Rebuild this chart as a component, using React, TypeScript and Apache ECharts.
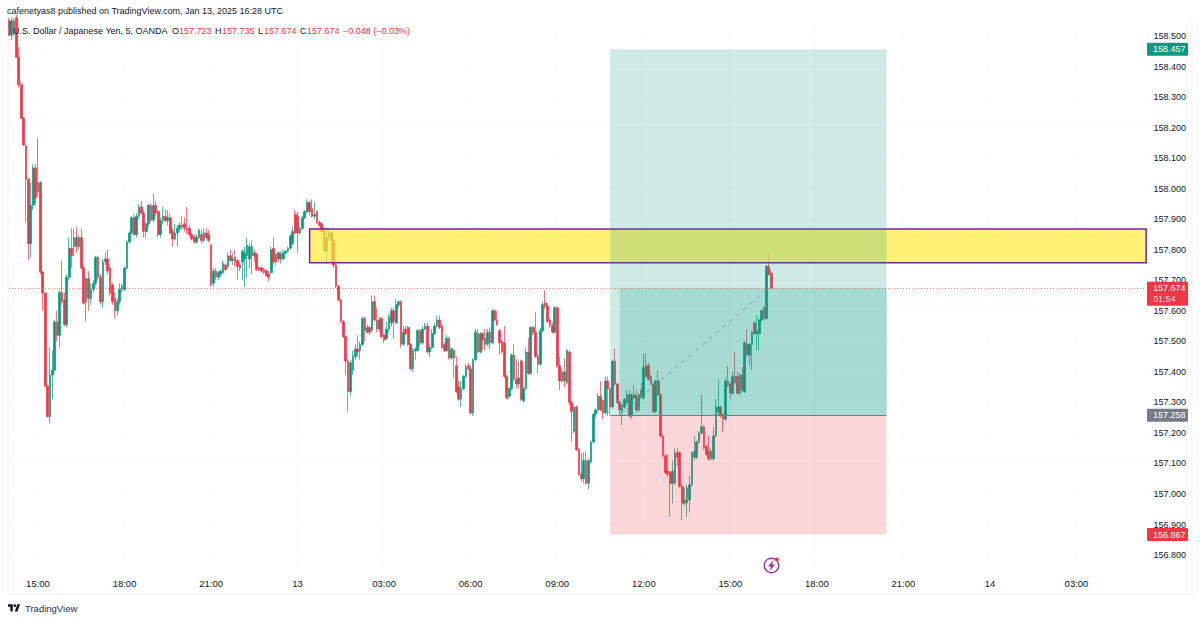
import React, { useEffect, useRef } from "react";
import * as echarts from "echarts";

// rows are [open, high, low, close]
const barsFriday: number[][] = [
  [158.55,158.56,158.50,158.503],[158.503,158.56,158.487,158.55],[158.55,158.56,158.50,158.51],[158.56,158.57,158.43,158.43],
  [158.43,158.465,158.33,158.34],[158.34,158.35,158.23,158.23],[158.23,158.235,158.14,158.143],[158.14,158.145,157.89,158.03],
  [158.03,158.035,157.765,157.82],[157.82,158.02,157.775,157.946],[157.946,158.08,157.93,158.068],[158.068,158.08,157.95,157.97],
  [157.99,158.166,157.98,158.02],[158.02,158.025,157.72,157.727],[157.727,157.73,157.60,157.658],[157.658,157.66,157.35,157.354],
  [157.354,157.354,157.25,157.253],[157.253,157.48,157.232,157.39],[157.39,157.47,157.31,157.406],[157.406,157.57,157.40,157.563],
  [157.563,157.60,157.50,157.52],[157.52,157.67,157.48,157.66],[157.66,157.765,157.62,157.63],[157.635,157.66,157.55,157.555],
  [157.555,157.72,157.545,157.71],[157.71,157.84,157.70,157.805],[157.805,157.87,157.74,157.78],[157.81,157.87,157.78,157.84],
  [157.84,157.875,157.79,157.81],[157.81,157.85,157.80,157.84],[157.84,157.87,157.735,157.74],[157.74,157.75,157.62,157.625],
  [157.63,157.71,157.565,157.705],[157.705,157.73,157.60,157.64],[157.64,157.69,157.62,157.67],[157.67,157.70,157.66,157.69],
  [157.69,157.78,157.68,157.775],[157.775,157.78,157.70,157.71],[157.71,157.72,157.62,157.63],[157.63,157.77,157.61,157.76],
  [157.76,157.79,157.75,157.77],[157.77,157.80,157.72,157.73],[157.74,157.75,157.65,157.658],[157.685,157.69,157.62,157.63],
  [157.64,157.66,157.575,157.60],[157.60,157.64,157.585,157.63],[157.63,157.69,157.62,157.67],[157.67,157.69,157.66,157.68],
  [157.67,157.745,157.665,157.74],[157.74,157.83,157.735,157.825],[157.825,157.86,157.82,157.855],[157.855,157.91,157.85,157.905],
  [157.905,157.915,157.845,157.85],[157.85,157.92,157.84,157.91],[157.91,157.95,157.90,157.94],[157.94,157.96,157.915,157.92],
  [157.92,157.93,157.84,157.86],[157.86,157.89,157.84,157.885],[157.885,157.95,157.875,157.945],[157.945,157.95,157.89,157.897],
  [157.897,157.985,157.89,157.945],[157.945,157.96,157.91,157.92],[157.925,157.93,157.84,157.85],[157.85,157.905,157.84,157.895],
  [157.895,157.94,157.885,157.91],[157.91,157.93,157.89,157.895],[157.895,157.93,157.88,157.905],[157.905,157.92,157.85,157.855],
  [157.86,157.87,157.81,157.835],[157.835,157.885,157.83,157.855],[157.855,157.88,157.81,157.87],[157.87,157.89,157.86,157.88],
  [157.88,157.91,157.865,157.875],[157.885,157.905,157.86,157.87],[157.87,157.94,157.85,157.865],[157.87,157.88,157.845,157.85],
  [157.85,157.855,157.83,157.835],[157.84,157.85,157.82,157.825],[157.825,157.85,157.82,157.84],[157.84,157.87,157.835,157.865],
  [157.85,157.865,157.82,157.83],[157.83,157.87,157.825,157.855],[157.855,157.87,157.835,157.84],[157.85,157.865,157.825,157.83],
];
const barsSundayOpen: number[][] = [
  [157.815,157.82,157.68,157.685],[157.69,157.74,157.68,157.73],[157.73,157.74,157.70,157.71],[157.71,157.73,157.70,157.725],
  [157.72,157.735,157.71,157.73],[157.725,157.765,157.72,157.755],[157.75,157.755,157.73,157.735],[157.745,157.79,157.74,157.78],
  [157.78,157.80,157.76,157.765],[157.765,157.79,157.75,157.77],[157.775,157.80,157.745,157.76],[157.765,157.77,157.70,157.745],
  [157.75,157.76,157.73,157.74],[157.76,157.80,157.70,157.795],[157.77,157.81,157.678,157.79],[157.78,157.84,157.71,157.815],
  [157.77,157.82,157.74,157.81],[157.78,157.83,157.72,157.81],[157.79,157.80,157.76,157.78],[157.785,157.79,157.73,157.735],
  [157.74,157.745,157.73,157.735],[157.74,157.745,157.725,157.73],[157.735,157.74,157.72,157.725],[157.73,157.735,157.71,157.715],
  [157.72,157.73,157.695,157.71],[157.725,157.81,157.72,157.80],[157.805,157.84,157.755,157.76],[157.785,157.79,157.75,157.76],
  [157.77,157.795,157.76,157.79],[157.785,157.795,157.755,157.77],[157.77,157.80,157.765,157.79],[157.79,157.80,157.785,157.795],
  [157.795,157.81,157.79,157.805],[157.805,157.85,157.80,157.845],[157.82,157.875,157.815,157.86],[157.915,157.93,157.85,157.855],
  [157.91,157.925,157.79,157.855],[157.855,157.875,157.85,157.87],[157.87,157.91,157.865,157.905],[157.905,157.93,157.90,157.925],
  [157.925,157.965,157.92,157.955],[157.955,157.96,157.915,157.925],[157.935,157.965,157.905,157.91],[157.91,157.955,157.90,157.915],
  [157.925,157.93,157.885,157.89],[157.89,157.895,157.875,157.88],[157.885,157.89,157.855,157.86],[157.87,157.875,157.79,157.795],
  [157.795,157.87,157.755,157.84],[157.84,157.87,157.83,157.855],[157.855,157.86,157.76,157.83],[157.83,157.835,157.74,157.75],
  [157.75,157.755,157.675,157.68],[157.68,157.685,157.63,157.635],[157.635,157.64,157.56,157.565],[157.565,157.57,157.51,157.515],
  [157.515,157.52,157.39,157.435],[157.435,157.44,157.27,157.335],[157.335,157.44,157.32,157.43],[157.405,157.47,157.39,157.45],
  [157.45,157.49,157.44,157.475],[157.475,157.52,157.45,157.465],[157.47,157.50,157.44,157.49],[157.49,157.58,157.485,157.575],
  [157.575,157.58,157.50,157.535],[157.53,157.555,157.525,157.545],[157.545,157.55,157.52,157.53],[157.535,157.65,157.53,157.63],
  [157.63,157.65,157.565,157.57],[157.57,157.61,157.53,157.54],[157.54,157.58,157.53,157.57],[157.575,157.58,157.51,157.515],
  [157.52,157.525,157.495,157.505],[157.51,157.565,157.505,157.54],[157.54,157.59,157.53,157.58],
];
const barsMorning: number[][] = [
  [157.56,157.61,157.55,157.60],[157.60,157.61,157.51,157.565],[157.56,157.64,157.555,157.62],[157.62,157.635,157.61,157.63],
  [157.63,157.635,157.48,157.49],[157.49,157.55,157.485,157.53],[157.54,157.55,157.52,157.525],[157.545,157.55,157.485,157.49],
  [157.49,157.495,157.405,157.41],[157.41,157.48,157.40,157.47],[157.47,157.48,157.44,157.475],[157.47,157.54,157.465,157.535],
  [157.535,157.54,157.485,157.495],[157.495,157.55,157.49,157.54],[157.54,157.56,157.535,157.55],[157.55,157.56,157.46,157.465],
  [157.465,157.49,157.45,157.48],[157.48,157.54,157.475,157.525],[157.525,157.56,157.52,157.55],[157.55,157.585,157.545,157.57],
  [157.57,157.585,157.54,157.545],[157.55,157.555,157.475,157.48],[157.49,157.495,157.465,157.47],[157.47,157.52,157.465,157.51],
  [157.51,157.515,157.44,157.445],[157.445,157.48,157.44,157.475],[157.47,157.475,157.38,157.445],[157.42,157.45,157.33,157.335],
  [157.35,157.37,157.305,157.31],[157.31,157.37,157.285,157.345],[157.345,157.39,157.34,157.385],[157.385,157.425,157.38,157.415],
  [157.42,157.43,157.405,157.41],[157.41,157.42,157.26,157.265],[157.265,157.445,157.255,157.44],[157.44,157.54,157.435,157.53],
  [157.525,157.54,157.46,157.465],[157.465,157.53,157.46,157.525],[157.525,157.53,157.47,157.505],[157.51,157.54,157.47,157.49],
  [157.49,157.54,157.485,157.53],[157.53,157.545,157.475,157.495],[157.495,157.605,157.49,157.60],[157.60,157.605,157.565,157.57],
  [157.57,157.60,157.55,157.555],[157.535,157.54,157.455,157.495],[157.50,157.505,157.46,157.465],[157.495,157.55,157.38,157.385],
  [157.385,157.39,157.31,157.315],[157.32,157.35,157.31,157.345],[157.345,157.46,157.34,157.455],[157.455,157.49,157.37,157.375],
  [157.375,157.44,157.345,157.36],[157.36,157.435,157.345,157.38],[157.435,157.44,157.305,157.31],[157.305,157.35,157.30,157.345],
  [157.345,157.48,157.34,157.465],[157.465,157.51,157.39,157.395],[157.395,157.55,157.39,157.545],[157.545,157.55,157.52,157.53],
  [157.53,157.595,157.445,157.45],[157.45,157.46,157.395,157.425],[157.425,157.545,157.42,157.535],[157.535,157.63,157.53,157.62],
  [157.625,157.668,157.605,157.615],[157.615,157.625,157.56,157.565],[157.57,157.575,157.545,157.55],[157.55,157.56,157.525,157.53],
  [157.53,157.615,157.525,157.61],[157.61,157.615,157.415,157.42],[157.42,157.45,157.34,157.37],[157.37,157.41,157.365,157.40],
  [157.40,157.445,157.35,157.37],[157.365,157.475,157.36,157.47],[157.465,157.47,157.29,157.30],[157.30,157.305,157.17,157.27],
  [157.205,157.29,157.20,157.285],[157.285,157.29,157.14,157.145],[157.145,157.15,157.06,157.065],[157.065,157.135,157.04,157.05],
  [157.05,157.135,157.035,157.11],[157.11,157.14,157.03,157.035],[157.035,157.115,157.015,157.11],[157.105,157.175,157.10,157.17],
  [157.17,157.265,157.165,157.26],[157.26,157.28,157.25,157.275],[157.275,157.33,157.27,157.32],[157.32,157.37,157.27,157.275],
  [157.305,157.31,157.245,157.265],[157.265,157.385,157.26,157.37],[157.37,157.385,157.255,157.345],
];
const barsSession: number[][] = [
  [157.345,157.35,157.26,157.285],[157.285,157.44,157.28,157.435],[157.435,157.475,157.355,157.36],[157.36,157.365,157.295,157.30],
  [157.30,157.305,157.26,157.275],[157.27,157.295,157.225,157.29],[157.285,157.315,157.28,157.31],[157.30,157.34,157.295,157.325],
  [157.325,157.34,157.25,157.255],[157.255,157.33,157.245,157.325],[157.325,157.355,157.31,157.315],[157.32,157.34,157.27,157.275],
  [157.275,157.33,157.27,157.325],[157.34,157.365,157.31,157.315],[157.315,157.46,157.31,157.415],[157.42,157.46,157.38,157.385],
  [157.42,157.43,157.37,157.375],[157.385,157.39,157.355,157.36],[157.36,157.365,157.265,157.27],[157.27,157.375,157.265,157.37],
  [157.37,157.405,157.32,157.325],[157.325,157.33,157.185,157.19],[157.19,157.195,157.12,157.125],[157.125,157.13,157.065,157.07],
  [157.075,157.13,157.055,157.065],[157.07,157.075,156.925,157.035],[157.035,157.11,156.97,157.075],[157.035,157.15,157.03,157.135],
  [157.135,157.15,157.09,157.12],[157.135,157.14,157.02,157.025],[157.025,157.03,156.915,156.97],[156.97,157.02,156.96,156.98],
  [156.97,157.03,156.925,157.02],[156.98,157.06,156.94,157.03],[157.03,157.14,157.025,157.135],[157.12,157.19,157.11,157.14],
  [157.12,157.175,157.115,157.17],[157.17,157.205,157.165,157.20],[157.20,157.325,157.195,157.22],[157.22,157.225,157.145,157.15],
  [157.155,157.16,157.125,157.13],[157.14,157.19,157.11,157.115],[157.115,157.15,157.11,157.14],[157.115,157.22,157.11,157.19],
  [157.19,157.31,157.185,157.285],[157.27,157.375,157.26,157.285],[157.285,157.29,157.25,157.255],[157.26,157.265,157.205,157.245],
  [157.245,157.38,157.24,157.37],[157.37,157.42,157.35,157.355],[157.36,157.365,157.31,157.33],[157.33,157.40,157.325,157.385],
  [157.385,157.465,157.36,157.365],[157.385,157.40,157.325,157.33],[157.33,157.395,157.325,157.39],[157.39,157.415,157.335,157.34],
  [157.335,157.50,157.33,157.495],[157.49,157.54,157.45,157.455],[157.455,157.495,157.42,157.49],[157.49,157.535,157.405,157.53],
  [157.56,157.565,157.52,157.525],[157.525,157.585,157.47,157.535],[157.525,157.575,157.47,157.57],[157.57,157.605,157.565,157.60],
  [157.61,157.615,157.57,157.575],[157.575,157.75,157.57,157.745],[157.745,157.79,157.715,157.72],[157.723,157.735,157.674,157.674],
];
const slotCount = 474;
const tickPrices = [158.5,158.4,158.3,158.2,158.1,158.0,157.9,157.8,157.7,157.6,157.5,157.4,157.3,157.2,157.1,157.0,156.9,156.8];
const timeTicks: Record<number, string> = {12:"15:00",48:"18:00",84:"21:00",120:"13",156:"03:00",192:"06:00",228:"09:00",264:"12:00",300:"15:00",336:"18:00",372:"21:00",408:"14",444:"03:00"};
const targetPrice = 158.457, entryPrice = 157.258, stopPrice = 156.867, lastPrice = 157.674;
const zoneHigh = 157.868, zoneLow = 157.757;
const positionStart = 250, positionEnd = 365, tradeStart = 254, zoneStart = 125;

const UP = "#089981", DOWN = "#f23645", INK = "#131722";
const FONT = "'Liberation Sans', Arial, sans-serif";
const G = { left: 7.95, right: 1147.4, top: 20, bottom: 570 };
const Y_MAX = 158.5524, Y_MIN = 156.751;
const priceY = (p: number) => G.top + ((Y_MAX - p) / (Y_MAX - Y_MIN)) * (G.bottom - G.top);

echarts.graphic.registerShape("tvlogo", echarts.graphic.extendPath(
  "M14 25H7V11H0V4h14v21zM28 25h-8l7.5-21h8L28 25zM20 4a4 4 0 1 1 0 8a4 4 0 0 1 0-8z", {}) as any);

function tag(p: number, label: string, fill: string) {
  const y = priceY(p);
  return [
    { type: "rect", shape: { x: 1147, y: y - 6.5, width: 41, height: 13, r: 1 }, style: { fill }, z: 20 },
    { type: "text", x: 1153, y, style: { text: label, fill: "#fff", font: `9px ${FONT}`, textVerticalAlign: "middle" }, z: 21 },
  ];
}
const txt = (x: number, y: number, text: string, fill = INK, size = 9) => ({
  type: "text", x, y, z: 21, style: { text, fill, font: `${size}px ${FONT}`, textVerticalAlign: "middle" },
});

export default function App() {
  const ref = useRef<HTMLDivElement>(null);
  useEffect(() => {
    const chart = echarts.init(ref.current!, undefined, { renderer: "svg" });
    const rows = [...barsFriday, ...barsSundayOpen, ...barsMorning, ...barsSession];
    const candles = rows.map(([o, h, l, c]) => [o, c, Math.min(l, o, c), Math.max(h, o, c)]);
    const categories = Array.from({ length: slotCount }, (_, i) => timeTicks[i] ?? String(i));
    const show = (i: number) => timeTicks[i] !== undefined;
    const lastY = priceY(lastPrice);
    chart.setOption({
      animation: false,
      backgroundColor: "#ffffff",
      grid: { left: G.left, top: G.top, width: G.right - G.left, height: G.bottom - G.top },
      xAxis: {
        type: "category", data: categories,
        axisLine: { show: false }, axisTick: { show: false },
        axisLabel: { interval: (i: number) => show(i), color: INK, fontSize: 9.5, fontFamily: FONT, margin: 8, hideOverlap: false },
        splitLine: { show: true, interval: (i: number) => show(i), lineStyle: { color: "#fafbfc", width: 1 } },
      },
      yAxis: {
        type: "value", position: "right", min: Y_MIN, max: Y_MAX, scale: true,
        axisLine: { show: false },
        axisTick: { show: false, customValues: tickPrices },
        axisLabel: { customValues: tickPrices, color: INK, fontSize: 9, fontFamily: FONT, margin: 6, formatter: (v: number) => v.toFixed(3) },
        splitLine: { show: true, lineStyle: { color: "#fafbfc", width: 1 } },
      },
      series: [{
        type: "candlestick", data: candles, barWidth: 2.2, clip: true,
        itemStyle: { color: UP, color0: DOWN, borderColor: UP, borderColor0: DOWN, borderWidth: 0.7 },
        markArea: {
          silent: true, z: 3,
          data: [
            [{ coord: [zoneStart, zoneHigh], itemStyle: { color: "rgba(255,235,59,0.7)", borderColor: "#7b1fa2", borderWidth: 1.5 } }, { coord: [slotCount - 1, zoneLow] }],
            [{ coord: [positionStart, targetPrice], itemStyle: { color: "rgba(8,153,129,0.2)" } }, { coord: [positionEnd, entryPrice] }],
            [{ coord: [positionStart, entryPrice], itemStyle: { color: "rgba(242,54,69,0.2)" } }, { coord: [positionEnd, stopPrice] }],
            [{ coord: [tradeStart, lastPrice], itemStyle: { color: "rgba(8,153,129,0.2)" } }, { coord: [positionEnd, entryPrice] }],
          ],
        },
        markLine: {
          silent: true, z: 4, symbol: "none", label: { show: false },
          data: [
            [{ coord: [0, lastPrice], lineStyle: { color: DOWN, type: [1, 2], width: 1, opacity: 0.7 } }, { coord: [slotCount - 1, lastPrice] }],
            [{ coord: [positionStart, entryPrice], lineStyle: { color: "#787b86", type: "solid", width: 1 } }, { coord: [positionEnd, entryPrice] }],
            [{ coord: [tradeStart, entryPrice], lineStyle: { color: "#8a9aa0", type: [4, 5], width: 1 } }, { coord: [rows.length - 2, lastPrice] }],
          ],
        },
      }],
      graphic: [
        { type: "polyline", shape: { points: [[8, 20], [8, 594], [1192, 594], [1192, 20]] }, style: { stroke: "#eceef2", fill: "none", lineWidth: 1 }, z: 1 },
        txt(7, 11, "cafenetyas8 published on TradingView.com, Jan 13, 2025 16:28 UTC"),
        txt(13, 31, "U.S. Dollar / Japanese Yen, 5, OANDA"),
        txt(172, 31, "O"), txt(179, 31, "157.723", DOWN),
        txt(215, 31, "H"), txt(222, 31, "157.735", DOWN),
        txt(258, 31, "L"), txt(264, 31, "157.674", DOWN),
        txt(300, 31, "C"), txt(307, 31, "157.674", DOWN),
        txt(343, 31, "\u22120.048 (\u22120.03%)", DOWN),
        ...tag(targetPrice, "158.457", UP),
        ...tag(entryPrice, "157.258", "#787b86"),
        ...tag(stopPrice, "156.867", DOWN),
        { type: "rect", shape: { x: 1147, y: lastY - 6.5, width: 41, height: 24, r: 1 }, style: { fill: DOWN }, z: 20 },
        { type: "text", x: 1153, y: lastY, z: 21, style: { text: "157.674", fill: "#fff", font: `9px ${FONT}`, textVerticalAlign: "middle" } },
        { type: "text", x: 1153, y: lastY + 11, z: 21, style: { text: "01:54", fill: "rgba(255,255,255,0.85)", font: `9px ${FONT}`, textVerticalAlign: "middle" } },
        { type: "circle", shape: { cx: 771.5, cy: 565.5, r: 7.2 }, style: { fill: "#fff", stroke: "#9c27b0", lineWidth: 1.4 }, z: 20 },
        { type: "polygon", shape: { points: [[773.5, 560], [768, 566.5], [771, 566.5], [769.5, 571], [775, 564.5], [772, 564.5]] }, style: { fill: "#9c27b0" }, z: 21 },
        { type: "circle", shape: { cx: 776.8, cy: 559.5, r: 2 }, style: { fill: "#f23645" }, z: 21 },
        { type: "tvlogo", x: 8, y: 603, scaleX: 0.34, scaleY: 0.34, style: { fill: INK }, z: 21 },
        txt(25, 608.5, "TradingView", "#2a2e39", 9.5),
      ],
    });
    return () => chart.dispose();
  }, []);
  return <div ref={ref} style={{ position: "fixed", left: 0, top: 0, width: 1200, height: 622, background: "#fff" }} />;
}
